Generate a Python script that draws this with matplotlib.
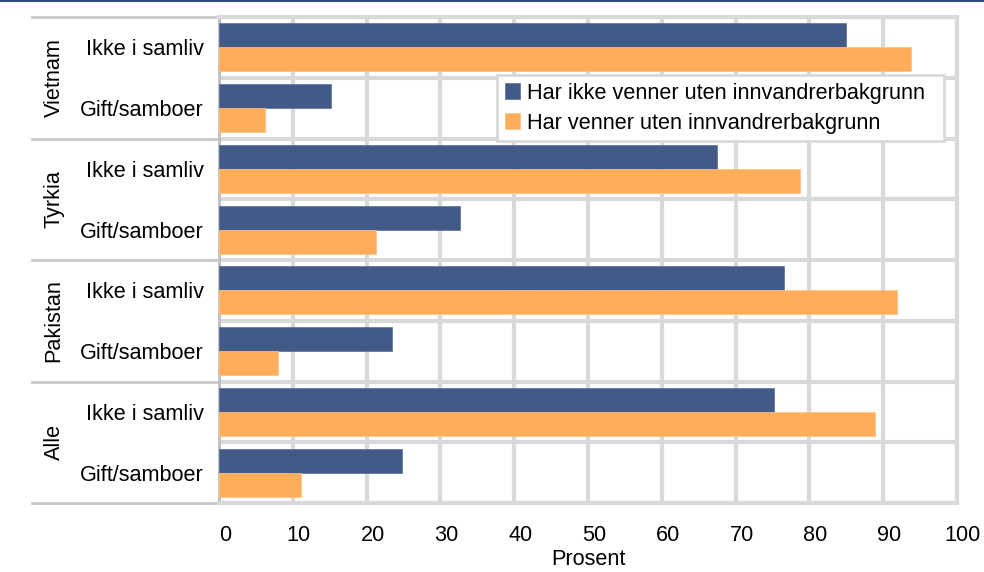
import matplotlib.pyplot as plt
import matplotlib.transforms as mtransforms
from matplotlib.lines import Line2D
import numpy as np

plt.rcParams['font.family'] = ['Liberation Sans', 'DejaVu Sans']

# data, top to bottom as in the chart
groups = ['Vietnam', 'Tyrkia', 'Pakistan', 'Alle']
subcats = ['Ikke i samliv', 'Gift/samboer']
series_names = ['Har ikke venner uten innvandrerbakgrunn',
                'Har venner uten innvandrerbakgrunn']
ikke_venner = [84.9, 15.2, 67.5, 32.6, 76.5, 23.5, 75.2, 24.8]
har_venner = [93.8, 6.2, 78.7, 21.3, 91.9, 8.0, 88.9, 11.1]
xticks = [0, 10, 20, 30, 40, 50, 60, 70, 80, 90, 100]

blue = '#425A88'
orange = '#FFAD5B'
grid_col = '#D9D9D9'
fs = 15.6

fig = plt.figure(figsize=(9.84, 5.72), dpi=100)
ax = fig.add_axes([219/984, 1-503/572, 738/984, 486/572])

n = len(ikke_venner)
y = np.arange(n) + 0.5
h = 0.395
ax.barh(y - h/2, ikke_venner, height=h, color=blue, edgecolor='#5A6F98',
        linewidth=0.5, label=series_names[0], zorder=3)
ax.barh(y + h/2, har_venner, height=h, color=orange, edgecolor='#FFC080',
        linewidth=0.5, label=series_names[1], zorder=3)

ax.set_xlim(0, 100)
ax.set_ylim(n, 0)
ax.set_xticks(xticks)
ax.set_yticks(y)
ax.set_yticklabels(subcats * len(groups))
ax.set_yticks(np.arange(n + 1), minor=True)
ax.tick_params(axis='both', which='both', length=0, labelsize=fs)
ax.tick_params(axis='x', pad=16)
ax.tick_params(axis='y', pad=11)
ax.grid(True, axis='x', color=grid_col, linewidth=3, zorder=0)
ax.grid(True, axis='y', which='minor', color=grid_col, linewidth=3, zorder=0)
for side in ['top', 'right', 'bottom']:
    ax.spines[side].set_color(grid_col)
    ax.spines[side].set_linewidth(3)
ax.spines['left'].set_color('#BFBFBF')
ax.spines['left'].set_linewidth(2)

# shift x tick labels a bit to the right like the original
offset = mtransforms.ScaledTranslation(6/100, 0, fig.dpi_scale_trans)
for lab in ax.get_xticklabels():
    lab.set_transform(lab.get_transform() + offset)

ax.set_xlabel('Prosent', fontsize=fs, labelpad=2)

# group labels and separators on the left
trans = mtransforms.blended_transform_factory(ax.transAxes, ax.transData)
for i, g in enumerate(groups):
    ax.text(-(219-54)/738, 2*i + 1, g, transform=trans, rotation=90,
            ha='center', va='center', fontsize=fs)
for k in range(len(groups) + 1):
    ax.add_line(Line2D([-(219-32)/738, 0], [2*k, 2*k], transform=trans,
                       color='#C8C8C8', linewidth=2, clip_on=False))

leg = ax.legend(loc='upper left', bbox_to_anchor=(0.3767, 0.751, 0.6057, 0.1297),
                mode='expand', fontsize=fs, frameon=True, fancybox=False,
                edgecolor=grid_col, framealpha=1, borderpad=0.35,
                handlelength=0.7, handleheight=0.7, handletextpad=0.35,
                labelspacing=0.42, borderaxespad=0)
leg.get_frame().set_linewidth(2)
leg.set_zorder(5)

# dark line along the top
fig.add_artist(Line2D([0, 1], [1-1/572, 1-1/572], color='#2F4D7E', linewidth=1.5))

fig.savefig('out.png', dpi=100)
